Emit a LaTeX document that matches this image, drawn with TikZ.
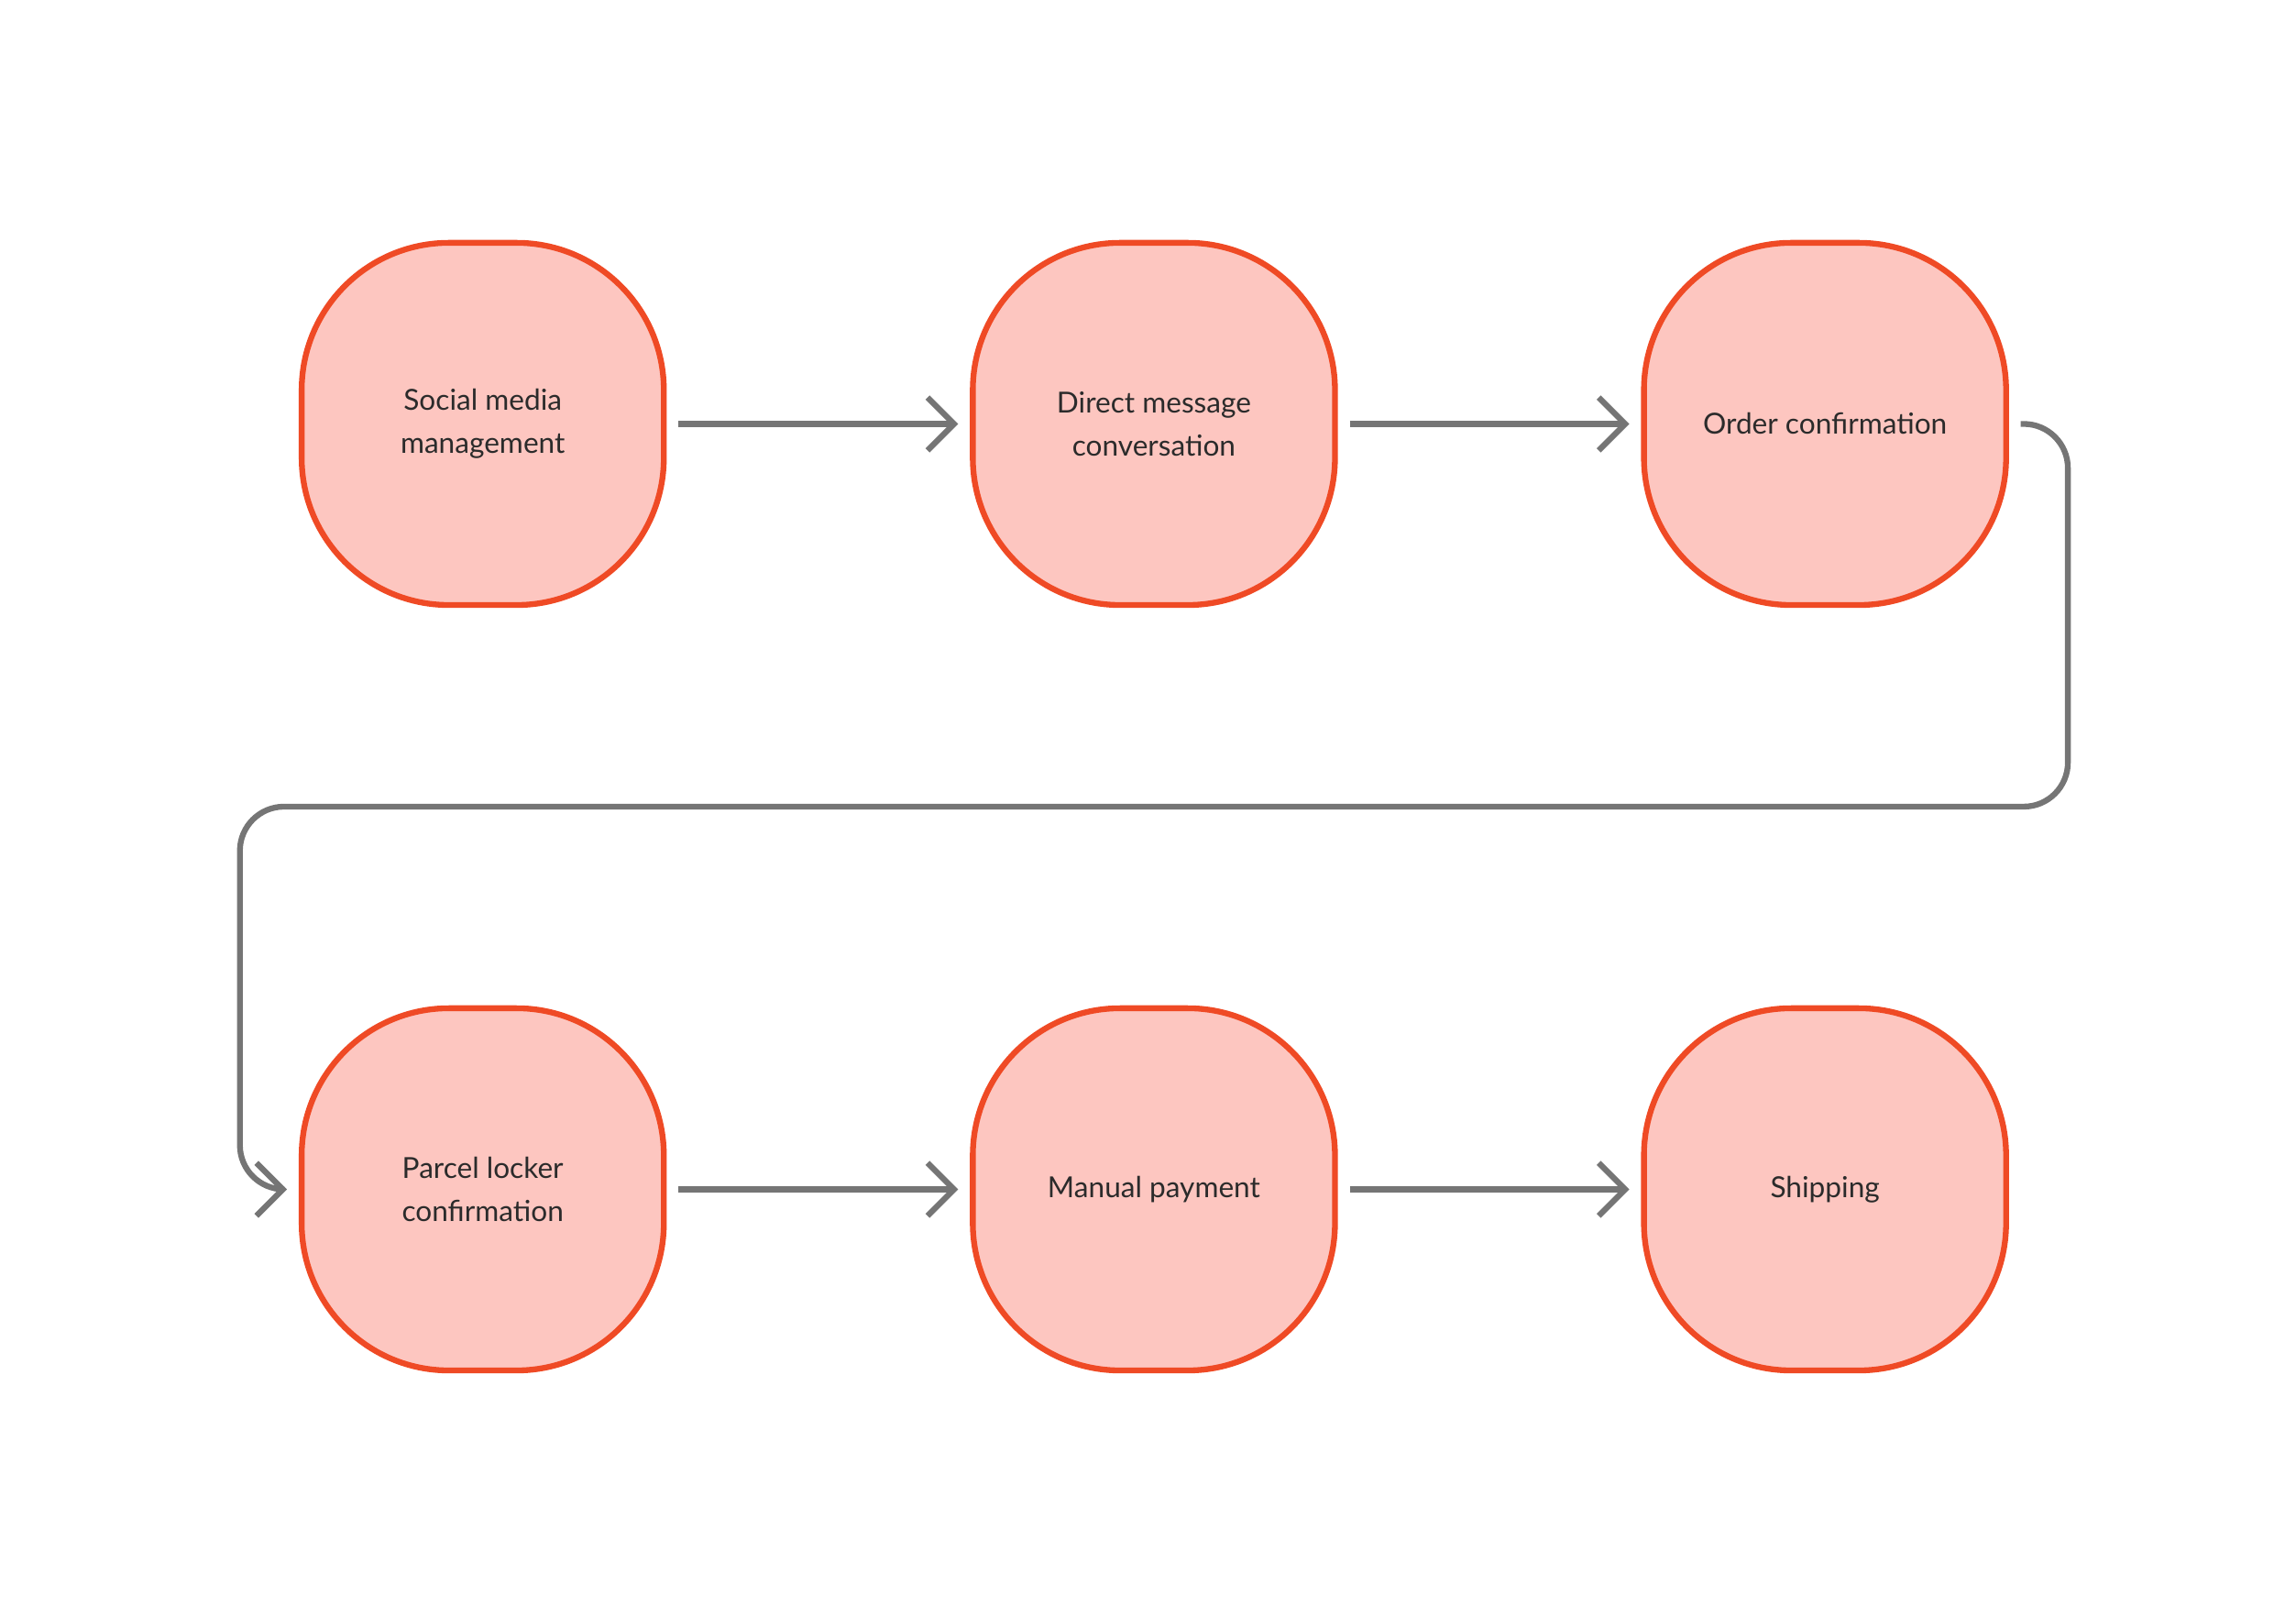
\documentclass[tikz,border=0pt]{standalone}
\usepackage{fontspec}
\setmainfont{Lato}
\usetikzlibrary{arrows.meta}
\definecolor{stagefill}{HTML}{FDC6C0}
\definecolor{stageline}{HTML}{EF4A25}
\definecolor{flowgray}{HTML}{757575}
\definecolor{textgray}{HTML}{2B2B2B}
\begin{document}
\begin{tikzpicture}[x=0.025cm,y=-0.025cm,
  stage/.style={rectangle,draw=stageline,fill=stagefill,line width=2.8pt,
    rounded corners=2.5cm,minimum width=6.15cm,minimum height=6.15cm,
    align=center,text=textgray,font=\fontsize{14}{21}\selectfont},
  flow/.style={draw=flowgray,line width=2.8pt,
    -{Straight Barb[length=0.45cm,width=0.9cm,line width=2.8pt]}}]
  \useasboundingbox (0,0) rectangle (1560,1091);
  % Top row
  \node[stage] (social) at (328,288) {Social media\\management};
  \node[stage] (direct) at (784,288) {Direct message\\conversation};
  \node[stage] (order) at (1240,288) {Order confirmation};
  % Bottom row
  \node[stage] (parcel) at (328,808) {Parcel locker\\confirmation};
  \node[stage] (payment) at (784,808) {Manual payment};
  \node[stage] (shipping) at (1240,808) {Shipping};
  % Connectors
  \draw[flow] ([xshift=0.2cm]social.east) -- ([xshift=-0.2cm]direct.west);
  \draw[flow] ([xshift=0.2cm]direct.east) -- ([xshift=-0.2cm]order.west);
  \draw[flow,rounded corners=0.75cm] ([xshift=0.2cm]order.east) -- (1405,288)
    -- (1405,548) -- (163,548) -- (163,808) -- ([xshift=-0.2cm]parcel.west);
  \draw[flow] ([xshift=0.2cm]parcel.east) -- ([xshift=-0.2cm]payment.west);
  \draw[flow] ([xshift=0.2cm]payment.east) -- ([xshift=-0.2cm]shipping.west);
\end{tikzpicture}
\end{document}
